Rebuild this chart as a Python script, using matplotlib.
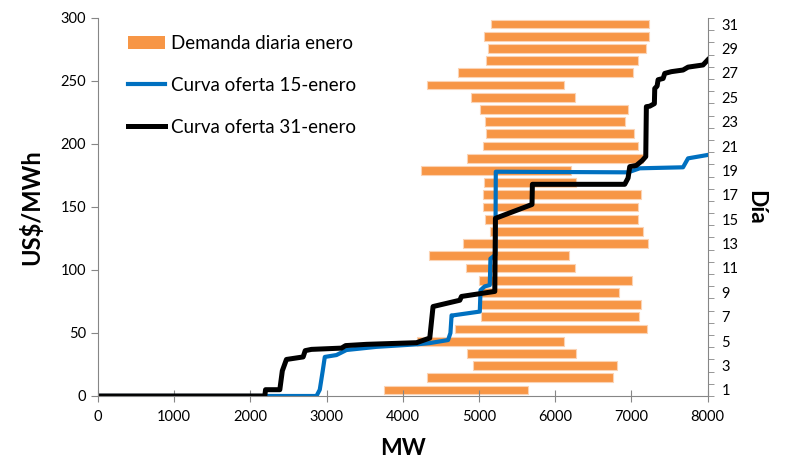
import numpy as np
import matplotlib
matplotlib.use("Agg")
import matplotlib.pyplot as plt
from matplotlib.patches import Patch
from matplotlib.lines import Line2D
from matplotlib.ticker import MultipleLocator, FixedLocator

plt.rcParams['font.family'] = ['Lato', 'DejaVu Sans']

# daily demand range (MW), day 1..31
days = np.arange(1, 32)
dem_min = [3755, 4321, 4922, 4843, 4184, 4682, 5032, 5032, 5010, 4997,
           4826, 4343, 4787, 5148, 5075, 5056, 5058, 5062, 4245, 4843,
           5053, 5098, 5079, 5014, 4892, 4315, 4725, 5093, 5124, 5066, 5154]
dem_max = [5643, 6754, 6816, 6278, 6111, 7200, 7104, 7131, 6842, 7012,
           6265, 6177, 7213, 7148, 7086, 7086, 7125, 6278, 6212, 7151,
           7091, 7039, 6916, 6955, 6265, 6115, 7016, 7091, 7187, 7230, 7226]

# supply curve 15-enero
mw_15 = [0, 2868, 2911, 2950, 2977, 3130, 3261, 3654, 4180, 4354, 4594, 4625,
         4640, 4660, 5010, 5020, 5075, 5141, 5150, 5215, 5220, 6955, 7108,
         7676, 7742, 8000]
pr_15 = [0, 0, 5, 20, 31, 32.5, 36.5, 39, 41, 42, 44.4, 50,
         64, 64, 67, 84, 87, 88, 109, 112, 178, 177.5, 180.7,
         181.5, 188.6, 191.3]

# supply curve 31-enero
mw_31 = [0, 2190, 2200, 2387, 2420, 2474, 2693, 2720, 2802, 3196, 3250, 3523,
         4180, 4354, 4397, 4748, 4770, 5207, 5215, 5695, 5700, 6911, 6955,
         6977, 7064, 7143, 7187, 7195, 7239, 7300, 7305, 7336, 7349, 7415,
         7436, 7523, 7676, 7742, 7938, 8000]
pr_31 = [0, 0, 5, 5, 20, 29, 31, 36, 37, 38, 40, 41,
         42.3, 46, 71, 76, 79, 83, 141, 152, 168, 168, 173,
         182, 183, 187, 190, 229.6, 230, 232, 244, 246, 251, 252,
         256, 257.4, 258.7, 261, 262.7, 266.7]

orange = '#F79646'
blue = '#0070C0'
grey = '#868686'

fig = plt.figure(figsize=(7.89, 4.61), dpi=100)
ax = fig.add_axes([0.124, 0.141, 0.773, 0.82])
ax2 = ax.twinx()
ax.set_zorder(ax2.get_zorder() + 1)
ax.patch.set_visible(False)

widths = np.array(dem_max) - np.array(dem_min)
ax2.barh(days, widths, left=dem_min, height=0.72, color=orange,
         edgecolor='#FBD3B4', linewidth=0.8)

ax.plot(mw_15, pr_15, color=blue, lw=3.0, solid_joinstyle='round')
ax.plot(mw_31, pr_31, color='black', lw=3.6, solid_joinstyle='round')

ax.set_xlim(0, 8000)
ax.set_ylim(0, 300)
ax2.set_ylim(0.5, 31.5)

ax.xaxis.set_major_locator(MultipleLocator(1000))
ax.yaxis.set_major_locator(MultipleLocator(50))
ax2.yaxis.set_major_locator(FixedLocator(np.arange(1, 32, 2)))
ax2.yaxis.set_minor_locator(FixedLocator(np.arange(0.5, 32, 1)))

for a in (ax, ax2):
    for s in a.spines.values():
        s.set_color(grey)
    a.spines['top'].set_visible(False)
ax.spines['right'].set_visible(False)
ax2.spines['left'].set_visible(False)
ax2.spines['bottom'].set_visible(False)

ax.tick_params(axis='x', direction='inout', length=8, color=grey, labelsize=10.5, pad=6)
ax.tick_params(axis='y', direction='out', length=5, color=grey, labelsize=10.5)
ax2.tick_params(axis='y', which='major', length=0, labelsize=10.5, pad=10)
ax2.tick_params(axis='y', which='minor', direction='out', length=4, color=grey)

ax.set_xlabel('MW', fontsize=16.5, fontweight='bold', labelpad=10)
ax.set_ylabel('US$/MWh', fontsize=17, fontweight='bold', labelpad=12)
ax2.set_ylabel('Día', fontsize=16.5, fontweight='bold', rotation=270, labelpad=20)

handles = [Patch(facecolor=orange, edgecolor='none'),
           Line2D([], [], color=blue, lw=3.0),
           Line2D([], [], color='black', lw=3.6)]
labels = ['Demanda diaria enero', 'Curva oferta 15-enero', 'Curva oferta 31-enero']
ax.legend(handles, labels, loc='upper left', bbox_to_anchor=(0.049, 0.955),
          frameon=False, fontsize=13.5, labelspacing=1.33, handlelength=2.0,
          handletextpad=0.3, borderpad=0, borderaxespad=0)

fig.savefig('out.png', dpi=100)
